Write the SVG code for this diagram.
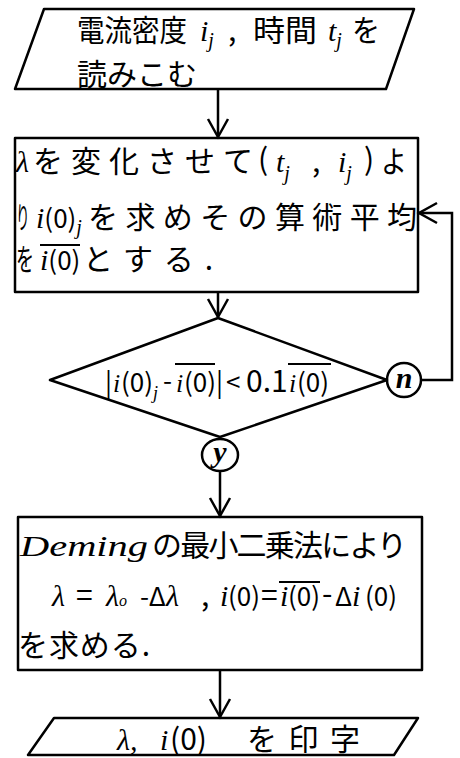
<svg xmlns="http://www.w3.org/2000/svg" width="460" height="758" viewBox="0 0 460 758">
<style>
.s{fill:none;stroke:#000;stroke-width:2.5;stroke-linejoin:round}
.c{stroke:#000;stroke-width:2.5;fill:none}
text{font-family:"Noto Sans CJK JP","Noto Sans",sans-serif;font-size:30px;fill:#000}
.v{font-family:"Liberation Serif",serif;font-style:italic}
.m{font-size:26px}
.ol{stroke:#000;stroke-width:2}
</style>
<defs>
<marker id="ah" markerWidth="22" markerHeight="24" refX="19" refY="11" orient="auto" markerUnits="userSpaceOnUse" overflow="visible">
<path d="M1,1 L19,11 L1,21" fill="none" stroke="#000" stroke-width="2.5"/>
</marker>
</defs>
<rect width="460" height="758" fill="#fff"/>

<g id="connectors">
<line class="c" x1="218" y1="90" x2="218" y2="137" marker-end="url(#ah)"/>
<line class="c" x1="218" y1="292" x2="218" y2="317" marker-end="url(#ah)"/>
<line class="c" x1="220" y1="471" x2="220" y2="516" marker-end="url(#ah)"/>
<line class="c" x1="220" y1="670" x2="220" y2="717" marker-end="url(#ah)"/>
<polyline class="c" points="421,380 452,380 452,213 419,213" marker-end="url(#ah)"/>
</g>

<g id="input">
<polygon class="s" points="44,9 414,9 386,89 15,89"/>
<text x="77" y="41" textLength="110" lengthAdjust="spacingAndGlyphs">電流密度</text>
<text class="v" x="200" y="41">i<tspan font-size="20" dy="6">j</tspan></text>
<text x="228" y="41">,</text>
<text x="253" y="41" textLength="64" lengthAdjust="spacingAndGlyphs">時間</text>
<text class="v" x="328" y="41">t<tspan font-size="20" dy="6">j</tspan></text>
<text x="352" y="41" textLength="28" lengthAdjust="spacingAndGlyphs">を</text>
<text x="77" y="85" textLength="120" lengthAdjust="spacing">読みこむ</text>
</g>

<g id="compute">
<rect class="s" x="15" y="138" width="403" height="154"/>
<text class="v" x="16" y="172">λ</text>
<text x="33" y="172" textLength="220" lengthAdjust="spacing">を変化させて</text>
<text x="258" y="170">(</text>
<text class="v" x="276" y="172">t<tspan font-size="20" dy="8">j</tspan></text>
<text x="312" y="172">,</text>
<text class="v" x="338" y="172">i<tspan font-size="20" dy="8">j</tspan></text>
<text x="364" y="170">)</text>
<text x="381" y="172" textLength="26" lengthAdjust="spacingAndGlyphs">よ</text>
<text transform="translate(16,228) scale(0.45,1)">り</text>
<text x="36" y="228"><tspan class="v">i</tspan><tspan class="m">(0)</tspan><tspan font-size="20" dy="6" class="v">j</tspan></text>
<text x="88" y="228" textLength="329" lengthAdjust="spacing">を求めその算術平均</text>
<text transform="translate(16,270) scale(0.6,1)">を</text>
<text x="40" y="270"><tspan class="v">i</tspan><tspan class="m">(0)</tspan></text>
<line class="ol" x1="40" y1="245" x2="80" y2="245"/>
<text x="83" y="270" textLength="130" lengthAdjust="spacing">とする.</text>
</g>

<g id="decision">
<polygon class="s" points="218,318 387,380 220,437 50,380"/>
<text class="m" x="105" y="392">|</text>
<text class="v m" x="113" y="392">i</text>
<text class="m" x="121" y="392">(0)<tspan font-size="18" dy="7" class="v">j</tspan></text>
<text class="m" x="163" y="390">-</text>
<text class="v m" x="176" y="392">i</text>
<text class="m" x="184" y="392">(0)</text>
<line class="ol" x1="175" y1="364" x2="215" y2="364"/>
<text class="m" x="216" y="392">|</text>
<text class="m" x="226" y="392">&lt;</text>
<text x="246" y="392" font-size="24">0.1</text>
<text class="v m" x="289" y="392">i</text>
<text class="m" x="297" y="392">(0)</text>
<line class="ol" x1="288" y1="364" x2="331" y2="364"/>
</g>

<g id="no">
<circle class="s" cx="404" cy="380" r="17"/>
<text class="v" x="404" y="388" font-size="22" text-anchor="middle" font-weight="bold">n</text>
</g>

<g id="yes">
<ellipse class="s" cx="220" cy="455" rx="18" ry="16"/>
<text class="v" x="220" y="462" font-size="22" text-anchor="middle" font-weight="bold">y</text>
</g>

<g id="deming">
<rect class="s" x="18" y="517" width="404" height="153"/>
<text class="v" x="20" y="556" font-size="36" textLength="128" lengthAdjust="spacingAndGlyphs">Deming</text>
<text x="152" y="556" textLength="255" lengthAdjust="spacing">の最小二乗法により</text>
<text class="v" x="52" y="606">λ</text>
<text x="76" y="606">=</text>
<text class="v" x="106" y="606">λ<tspan font-size="16">o</tspan></text>
<text class="m" x="140" y="606">-Δ<tspan class="v" font-size="30">λ</tspan></text>
<text x="201" y="606">,</text>
<text class="v" x="220" y="606">i</text>
<text class="m" x="228" y="606">(0)</text>
<text x="261" y="606" font-size="16">=</text>
<text class="v" x="280" y="606">i</text>
<text class="m" x="288" y="606">(0)</text>
<line class="ol" x1="279" y1="582" x2="320" y2="582"/>
<text x="322" y="604" font-size="22">-</text>
<text class="m" x="335" y="606">Δ<tspan class="v" font-size="30">i</tspan></text>
<text class="m" x="365" y="606">(0)</text>
<text x="18" y="656" textLength="132" lengthAdjust="spacing">を求める.</text>
</g>

<g id="output">
<polygon class="s" points="54,718 418,718 394,755 28,755"/>
<text class="v" x="117" y="750">λ,</text>
<text class="v" x="160" y="750">i</text>
<text x="170" y="750">(0)</text>
<text x="247" y="750" textLength="113" lengthAdjust="spacing">を印字</text>
</g>
</svg>
